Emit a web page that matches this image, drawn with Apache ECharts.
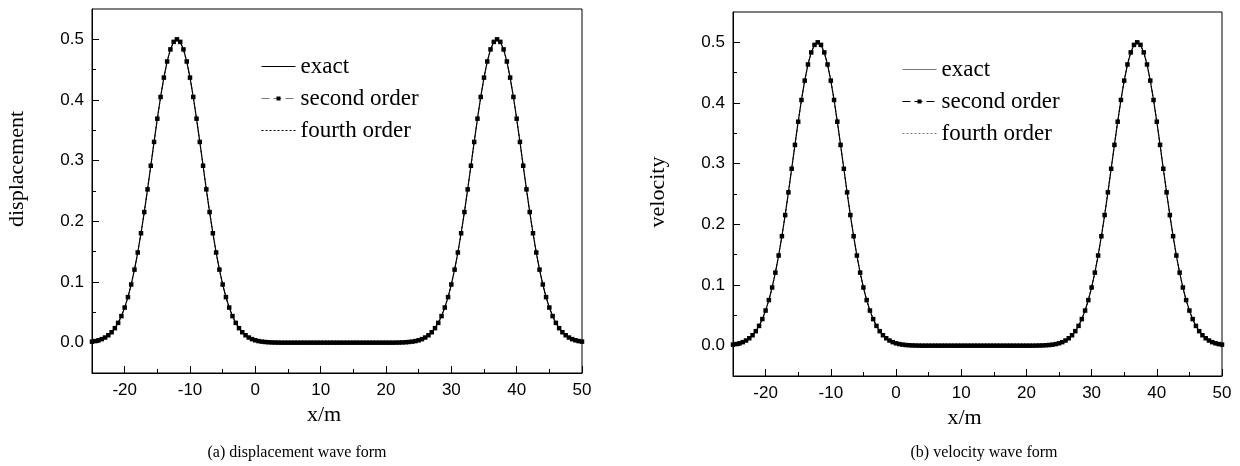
<!DOCTYPE html>
<html><head><meta charset="utf-8">
<script src="https://cdn.jsdelivr.net/npm/echarts@6/dist/echarts.min.js"></script>
<style>html,body{margin:0;padding:0;background:#fff}#c{width:1240px;height:466px}</style>
</head><body><div id="c"></div>
<script>
const xPositions = [-25,-24.5,-24,-23.5,-23,-22.5,-22,-21.5,-21,-20.5,-20,-19.5,-19,-18.5,-18,-17.5,-17,-16.5,-16,-15.5,-15,-14.5,-14,-13.5,-13,-12.5,-12,-11.5,-11,-10.5,-10,-9.5,-9,-8.5,-8,-7.5,-7,-6.5,-6,-5.5,-5,-4.5,-4,-3.5,-3,-2.5,-2,-1.5,-1,-0.5,0,0.5,1,1.5,2,2.5,3,3.5,4,4.5,5,5.5,6,6.5,7,7.5,8,8.5,9,9.5,10,10.5,11,11.5,12,12.5,13,13.5,14,14.5,15,15.5,16,16.5,17,17.5,18,18.5,19,19.5,20,20.5,21,21.5,22,22.5,23,23.5,24,24.5,25,25.5,26,26.5,27,27.5,28,28.5,29,29.5,30,30.5,31,31.5,32,32.5,33,33.5,34,34.5,35,35.5,36,36.5,37,37.5,38,38.5,39,39.5,40,40.5,41,41.5,42,42.5,43,43.5,44,44.5,45,45.5,46,46.5,47,47.5,48,48.5,49,49.5,50];
const displacement = [0.0017,0.0026,0.0039,0.0058,0.0085,0.0122,0.0172,0.0239,0.0326,0.0438,0.0579,0.0751,0.0959,0.1204,0.1486,0.1804,0.2153,0.2527,0.2916,0.3309,0.3692,0.4050,0.4369,0.4635,0.4834,0.4958,0.5000,
0.4958,0.4834,0.4635,0.4369,0.4050,0.3692,0.3309,0.2916,0.2527,0.2153,0.1804,0.1486,0.1204,0.0959,0.0751,0.0579,0.0438,0.0326,0.0239,0.0172,0.0122,0.0085,
0.0058,0.0039,0.0026,0.0017,0.0011,0.0007,0.0004,0.0002,0.0001,
0,0,0,0,0,0,0,0,0,0,0,0,0,0,0,0,0,0,0,0,0,0,0,0,0,0,0,0,0,0,0,0,0,0,0,
0.0001,0.0002,0.0004,0.0007,0.0011,
0.0017,0.0026,0.0039,0.0058,0.0085,0.0122,0.0172,0.0239,0.0326,0.0438,0.0579,0.0751,0.0959,0.1204,0.1486,0.1804,0.2153,0.2527,0.2916,0.3309,0.3692,0.4050,0.4369,0.4635,0.4834,0.4958,0.5000,
0.4958,0.4834,0.4635,0.4369,0.4050,0.3692,0.3309,0.2916,0.2527,0.2153,0.1804,0.1486,0.1204,0.0959,0.0751,0.0579,0.0438,0.0326,0.0239,0.0172,0.0122,0.0085,0.0058,0.0039,0.0026,0.0017];
const velocity = [0.0017,0.0026,0.0039,0.0058,0.0085,0.0122,0.0172,0.0239,0.0326,0.0438,0.0579,0.0751,0.0959,0.1204,0.1486,0.1804,0.2153,0.2527,0.2916,0.3309,0.3692,0.4050,0.4369,0.4635,0.4834,0.4958,0.5000,
0.4958,0.4834,0.4635,0.4369,0.4050,0.3692,0.3309,0.2916,0.2527,0.2153,0.1804,0.1486,0.1204,0.0959,0.0751,0.0579,0.0438,0.0326,0.0239,0.0172,0.0122,0.0085,
0.0058,0.0039,0.0026,0.0017,0.0011,0.0007,0.0004,0.0002,0.0001,
0,0,0,0,0,0,0,0,0,0,0,0,0,0,0,0,0,0,0,0,0,0,0,0,0,0,0,0,0,0,0,0,0,0,0,
0.0001,0.0002,0.0004,0.0007,0.0011,
0.0017,0.0026,0.0039,0.0058,0.0085,0.0122,0.0172,0.0239,0.0326,0.0438,0.0579,0.0751,0.0959,0.1204,0.1486,0.1804,0.2153,0.2527,0.2916,0.3309,0.3692,0.4050,0.4369,0.4635,0.4834,0.4958,0.5000,
0.4958,0.4834,0.4635,0.4369,0.4050,0.3692,0.3309,0.2916,0.2527,0.2153,0.1804,0.1486,0.1204,0.0959,0.0751,0.0579,0.0438,0.0326,0.0239,0.0172,0.0122,0.0085,0.0058,0.0039,0.0026,0.0017];
const xMajorTicks = [-20,-10,0,10,20,30,40,50];
const xMinorTicks = [-15,-5,5,15,25,35,45];
const yMajorTicks = [0,0.1,0.2,0.3,0.4,0.5];
const yMinorTicks = [0.05,0.15,0.25,0.35,0.45];
const seriesNames = ['exact','second order','fourth order'];
const yNames = ['displacement','velocity'];
const xName = 'x/m';
const captions = ['(a) displacement wave form','(b) velocity wave form'];

const panels = [
  {values: displacement, grid:{left:92, top:9, width:490, height:364}, legend:{left:261, top:55}, yPad:[0,0,0,44], caption:{x:297, y:453},
   legendColors:['#000','#777','#000']},
  {values: velocity, grid:{left:733, top:12, width:489, height:364}, legend:{left:902, top:58}, yPad:[0,0,0,4], caption:{x:984, y:453},
   legendColors:['#777','#000','#777']}
];

const serif = 'Liberation Serif, Times New Roman, serif';
const sans = 'Liberation Sans, Arial, sans-serif';
const option = {animation:false, backgroundColor:'#fff', grid:[], xAxis:[], yAxis:[], series:[], legend:[], graphic:[]};

function tickAxisX(g, vals, len) {
  return {
    type:'value', gridIndex:g, min:-25, max:50, position:'bottom',
    axisLine:{show:false, onZero:false},
    axisTick:{show:true, inside:true, length:len, customValues:vals, lineStyle:{color:'#000', width:1}},
    axisLabel:{show:false}, splitLine:{show:false}
  };
}
function tickAxisY(g, vals, len) {
  return {
    type:'value', gridIndex:g, min:-0.05, max:0.55, position:'left',
    axisLine:{show:false, onZero:false},
    axisTick:{show:true, inside:true, length:len, customValues:vals, lineStyle:{color:'#000', width:1}},
    axisLabel:{show:false}, splitLine:{show:false}
  };
}

panels.forEach((p, g) => {
  option.grid.push(Object.assign({show:true, borderColor:'#000', borderWidth:1, backgroundColor:'transparent', containLabel:false}, p.grid));
  option.xAxis.push({
    type:'value', gridIndex:g, min:-25, max:50, position:'bottom',
    name:xName, nameLocation:'middle', nameGap:27,
    nameTextStyle:{fontFamily:serif, fontSize:22, color:'#000', padding:[0,26,0,0]},
    axisLine:{show:true, onZero:false, lineStyle:{color:'#000', width:1}},
    axisTick:{show:false},
    axisLabel:{show:true, customValues:xMajorTicks, color:'#000', fontFamily:sans, fontSize:17, margin:9},
    splitLine:{show:false}
  });
  option.xAxis.push(tickAxisX(g, xMajorTicks, 7));
  option.xAxis.push(tickAxisX(g, xMinorTicks, 4));
  option.yAxis.push({
    type:'value', gridIndex:g, min:-0.05, max:0.55, position:'left',
    name:yNames[g], nameLocation:'middle', nameGap:64, nameRotate:90,
    nameTextStyle:{fontFamily:serif, fontSize:22, color:'#000', padding:p.yPad},
    axisLine:{show:true, onZero:false, lineStyle:{color:'#000', width:1}},
    axisTick:{show:false},
    axisLabel:{show:true, customValues:yMajorTicks, color:'#000', fontFamily:sans, fontSize:17, margin:8,
      formatter:v => Number(v).toFixed(1)},
    splitLine:{show:false}
  });
  option.yAxis.push(tickAxisY(g, yMajorTicks, 7));
  option.yAxis.push(tickAxisY(g, yMinorTicks, 4));
  const pts = xPositions.map((x, i) => [x, p.values[i]]);
  const xi = 3*g, yi = 3*g;
  option.series.push({
    type:'line', name:seriesNames[2], xAxisIndex:xi, yAxisIndex:yi, data:pts, symbol:'none', z:2,
    lineStyle:{color:'#000', width:1, type:[2,2]}, itemStyle:{color:'#000'}
  });
  option.series.push({
    type:'line', name:seriesNames[0], xAxisIndex:xi, yAxisIndex:yi, data:pts, symbol:'none', z:3,
    lineStyle:{color:'#000', width:1.2}, itemStyle:{color:'#000'}
  });
  option.series.push({
    type:'line', name:seriesNames[1], xAxisIndex:xi, yAxisIndex:yi, data:pts, symbol:'rect', symbolSize:4.5, showSymbol:true, z:4,
    lineStyle:{color:'#777', width:1, type:[8,4], opacity:0}, itemStyle:{color:'#000'}
  });
  option.legend.push({
    orient:'vertical', left:p.legend.left, top:p.legend.top, padding:0,
    itemWidth:34, itemHeight:5, itemGap:9, selectedMode:false,
    textStyle:{fontFamily:serif, fontSize:23, color:'#000', lineHeight:22},
    data:[
      {name:seriesNames[0], itemStyle:{color:'transparent'}, lineStyle:{color:p.legendColors[0], width:1, type:'solid', opacity:1}},
      {name:seriesNames[1], itemStyle:{color:'#000'}, lineStyle:{color:p.legendColors[1], width:1, type:[8,4], opacity:1}},
      {name:seriesNames[2], itemStyle:{color:'transparent'}, lineStyle:{color:p.legendColors[2], width:1, type:[2,2], opacity:1}}
    ]
  });
  option.graphic.push({
    type:'text', x:p.caption.x, y:p.caption.y,
    style:{text:captions[g], fill:'#000', font:'16px ' + serif, align:'center', verticalAlign:'middle'}
  });
});

const chart = echarts.init(document.getElementById('c'), null, {renderer:'canvas'});
chart.setOption(option);
</script>
</body></html>
